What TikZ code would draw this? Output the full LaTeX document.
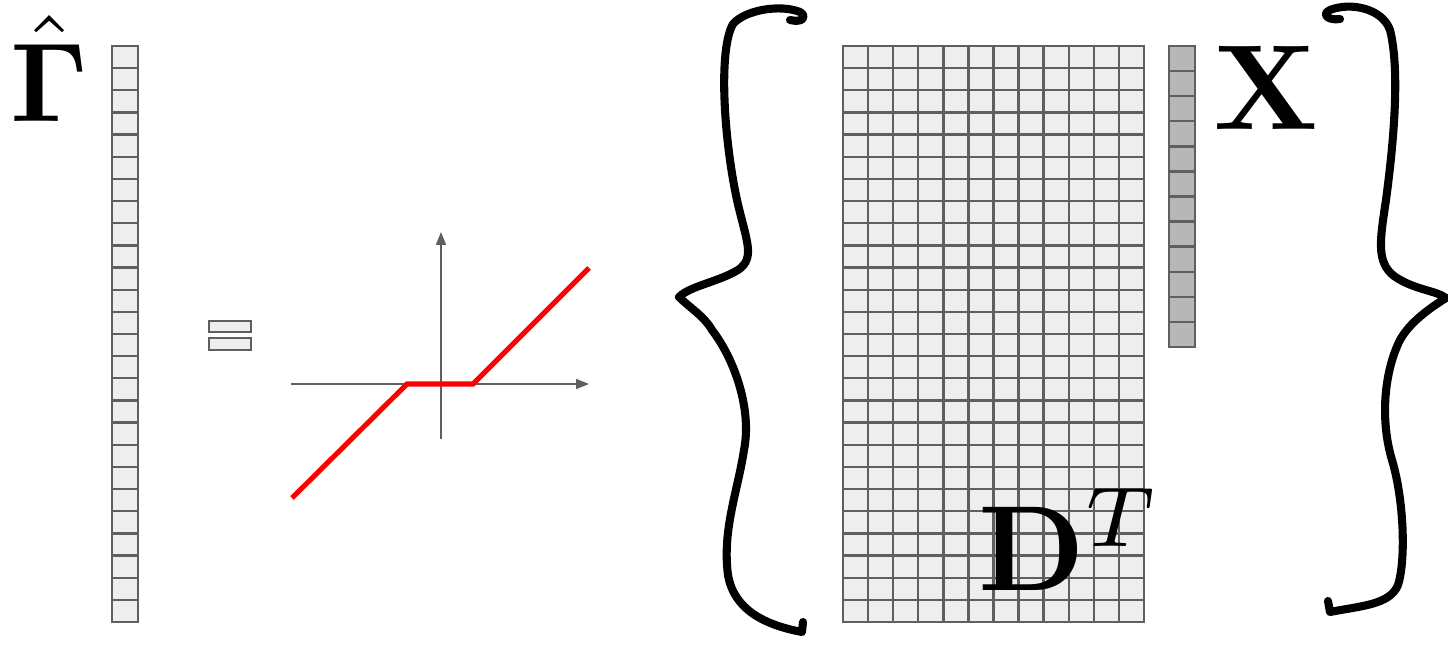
\documentclass[tikz,border=0pt]{standalone}
\usepackage{amsmath,amssymb}
\usepackage{graphicx}
\usepackage{tikz}
\usetikzlibrary{arrows.meta}
\definecolor{gridgray}{RGB}{95,95,95}
\definecolor{cellgray}{RGB}{238,238,238}
\definecolor{xgray}{RGB}{183,183,183}
\newcommand{\cellw}{25.083}
\newcommand{\cellh}{22.154}

\begin{document}
\begin{tikzpicture}[
  x=0.02cm, y=-0.02cm,
  cell/.style={draw=gridgray, fill=cellgray, line width=1.35pt},
  xcell/.style={cell, fill=xgray},
  axis/.style={draw=gridgray, line width=1.1pt, -{Triangle[length=0.26cm,width=0.2cm]}},
  shrink/.style={draw=red, line width=2.9pt, line join=miter},
  brace/.style={draw=black, line width=4.6pt, line cap=round, line join=round},
  sym/.style={inner sep=0pt, anchor=base west}
]
\useasboundingbox (0,0) rectangle (1448,645);

% estimate vector
\foreach \r in {0,...,25}
  \draw[cell] (112,{46+\r*\cellh}) rectangle +(26,\cellh);
\node[sym] (gammahat) at (10,122) {\scalebox{6.4}{$\hat{\mathbf{\Gamma}}$}};

% equals sign
\draw[cell] (209,321) rectangle (251,332);
\draw[cell] (209,338) rectangle (251,350);

% soft threshold
\coordinate (xneg) at (291,384);
\coordinate (xpos) at (589,384);
\coordinate (yneg) at (441,439);
\coordinate (ypos) at (441,232);
\draw[axis] (xneg) -- (xpos);
\draw[axis] (yneg) -- (ypos);
\coordinate (lowend) at (292,498);
\coordinate (kneeL) at (407,384);
\coordinate (kneeR) at (473,384);
\coordinate (highend) at (589,268);
\draw[shrink] (lowend) -- (kneeL) -- (kneeR) -- (highend);

% left brace
\draw[brace] (790,20) .. controls (802,23) and (808,17) .. (800,12)
  .. controls (780,4) and (745,10) .. (733,24)
  .. controls (718,50) and (724,140) .. (737,200)
  .. controls (746,240) and (756,258) .. (738,270)
  .. controls (718,282) and (690,286) .. (679,297);
\draw[brace] (679,297) .. controls (690,308) and (704,316) .. (712,330)
  .. controls (735,360) and (752,410) .. (744,450)
  .. controls (738,490) and (722,530) .. (728,575)
  .. controls (734,610) and (765,625) .. (802,632) -- (803,622);

% dictionary
\foreach \c in {0,...,11}
  \foreach \r in {0,...,25}
    \draw[cell] ({843+\c*\cellw},{46+\r*\cellh}) rectangle +(\cellw,\cellh);
\node[sym] (dict) at (978,590) {\scalebox{6.9}{$\mathbf{D}^T$}};

% signal
\foreach \r in {0,...,11}
  \draw[xcell] (1169,{46+\r*\cellw}) rectangle +(26,\cellw);
\node[sym] (signal) at (1213,130) {\scalebox{6.9}{$\mathbf{X}$}};

% right brace
\draw[brace] (1340,19) .. controls (1328,21) and (1321,14) .. (1330,10)
  .. controls (1350,2) and (1382,8) .. (1390,30)
  .. controls (1400,70) and (1394,140) .. (1386,200)
  .. controls (1380,240) and (1376,262) .. (1394,276)
  .. controls (1414,290) and (1435,290) .. (1446,298);
\draw[brace] (1446,298) .. controls (1430,308) and (1410,322) .. (1400,340)
  .. controls (1384,372) and (1380,420) .. (1392,460)
  .. controls (1404,500) and (1406,560) .. (1398,585)
  .. controls (1390,605) and (1360,606) .. (1330,612) -- (1328,601);
\end{tikzpicture}
\end{document}
